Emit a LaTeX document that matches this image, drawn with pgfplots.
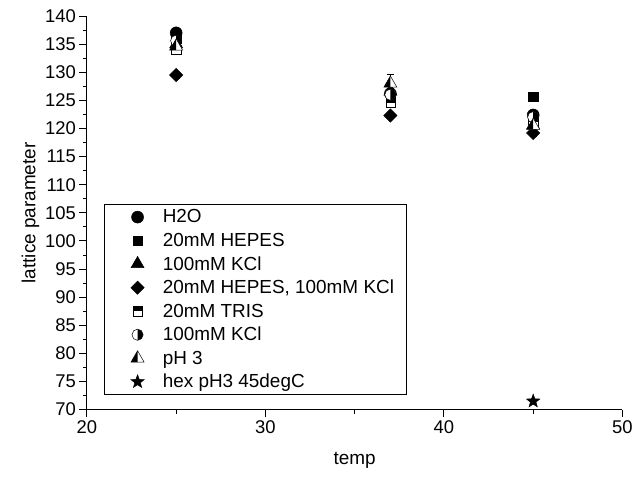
\documentclass[border=0pt]{standalone}
\usepackage{fontspec}
\setmainfont{Liberation Sans}
\usepackage{pgfplots}
\pgfplotsset{compat=1.18}
\usetikzlibrary{plotmarks}

% half-filled marks and a filled star
\pgfdeclareplotmark{htri}{%
  \begin{pgfscope}\pgfsetfillcolor{white}%
  \pgfpathmoveto{\pgfqpoint{0pt}{\pgfplotmarksize}}%
  \pgfpathlineto{\pgfqpoint{-.866\pgfplotmarksize}{-.5\pgfplotmarksize}}%
  \pgfpathlineto{\pgfqpoint{.866\pgfplotmarksize}{-.5\pgfplotmarksize}}%
  \pgfpathclose\pgfusepathqfill\end{pgfscope}%
  \pgfpathmoveto{\pgfqpoint{0pt}{\pgfplotmarksize}}%
  \pgfpathlineto{\pgfqpoint{-.866\pgfplotmarksize}{-.5\pgfplotmarksize}}%
  \pgfpathlineto{\pgfqpoint{0pt}{-.5\pgfplotmarksize}}%
  \pgfpathclose\pgfusepathqfill
  \pgfpathmoveto{\pgfqpoint{0pt}{\pgfplotmarksize}}%
  \pgfpathlineto{\pgfqpoint{-.866\pgfplotmarksize}{-.5\pgfplotmarksize}}%
  \pgfpathlineto{\pgfqpoint{.866\pgfplotmarksize}{-.5\pgfplotmarksize}}%
  \pgfpathclose\pgfusepathqstroke
}
\pgfdeclareplotmark{hsq}{%
  \begin{pgfscope}\pgfsetfillcolor{white}%
  \pgfpathrectanglecorners{\pgfqpoint{-\pgfplotmarksize}{-\pgfplotmarksize}}{\pgfqpoint{\pgfplotmarksize}{\pgfplotmarksize}}%
  \pgfusepathqfill\end{pgfscope}%
  \pgfpathrectanglecorners{\pgfqpoint{-\pgfplotmarksize}{0pt}}{\pgfqpoint{\pgfplotmarksize}{\pgfplotmarksize}}%
  \pgfusepathqfill
  \pgfpathrectanglecorners{\pgfqpoint{-\pgfplotmarksize}{-\pgfplotmarksize}}{\pgfqpoint{\pgfplotmarksize}{\pgfplotmarksize}}%
  \pgfusepathqstroke
}
\pgfdeclareplotmark{hcirc}{%
  \begin{pgfscope}\pgfsetfillcolor{white}%
  \pgfpathcircle{\pgfpointorigin}{\pgfplotmarksize}\pgfusepathqfill\end{pgfscope}%
  \pgfpathmoveto{\pgfqpoint{0pt}{-\pgfplotmarksize}}%
  \pgfpatharc{-90}{90}{\pgfplotmarksize}%
  \pgfpathclose\pgfusepathqfill
  \pgfpathcircle{\pgfpointorigin}{\pgfplotmarksize}\pgfusepathqstroke
}
\pgfdeclareplotmark{fstar}{%
  \pgfpathmoveto{\pgfqpointpolar{90}{\pgfplotmarksize}}%
  \pgfpathlineto{\pgfqpointpolar{126}{.42\pgfplotmarksize}}%
  \pgfpathlineto{\pgfqpointpolar{162}{\pgfplotmarksize}}%
  \pgfpathlineto{\pgfqpointpolar{198}{.42\pgfplotmarksize}}%
  \pgfpathlineto{\pgfqpointpolar{234}{\pgfplotmarksize}}%
  \pgfpathlineto{\pgfqpointpolar{270}{.42\pgfplotmarksize}}%
  \pgfpathlineto{\pgfqpointpolar{306}{\pgfplotmarksize}}%
  \pgfpathlineto{\pgfqpointpolar{342}{.42\pgfplotmarksize}}%
  \pgfpathlineto{\pgfqpointpolar{18}{\pgfplotmarksize}}%
  \pgfpathlineto{\pgfqpointpolar{54}{.42\pgfplotmarksize}}%
  \pgfpathclose\pgfusepathqfillstroke
}

\begin{document}
\begin{tikzpicture}
\begin{axis}[
    scale only axis,
    width=536bp, height=394bp,
    xmin=20, xmax=50, ymin=70, ymax=140,
    axis lines=left,
    axis line style={-, line width=1.1pt},
    xtick={20,30,40,50}, minor xtick={25,35,45},
    ytick={70,75,...,140}, minor ytick={72.5,77.5,...,137.5},
    tick align=outside,
    major tick length=7.5bp, minor tick length=4bp,
    tick style={line width=0.9pt, black},
    tick label style={font=\fontsize{18.5}{21}\selectfont},
    /pgf/number format/assume math mode=true,
    xlabel={temp}, ylabel={lattice parameter},
    label style={font=\fontsize{19}{22}\selectfont},
    xlabel style={yshift=-12bp},
    ylabel style={yshift=-1bp},
    clip=false,
    legend style={
        at={(0.032,0.038)}, anchor=south west,
        draw=black, line width=0.6pt,
        font=\fontsize{19}{22}\selectfont,
        row sep=4.6bp, inner xsep=10bp, inner ysep=3bp,
    },
    legend image code/.code={%
        \draw[#1] plot coordinates {(23bp,0bp)};
        \path (0bp,0bp) (46bp,0bp);},
    legend cell align=left,
    every axis plot/.append style={only marks, black, fill=black, line width=0.5pt},
    error bars/y dir=both, error bars/y explicit,
    error bars/error mark options={rotate=90, mark size=3.5bp},
]
\addplot[mark=*, mark size=6bp] coordinates {
    (25,137.0) +- (0,0.6) (37,126.2) +- (0,0.6) (45,122.4) +- (0,0.6)};
\addplot[mark=square*, mark size=4.6bp] coordinates {
    (25,136.0) +- (0,0.6) (37,125.0) +- (0,0.6) (45,125.7) +- (0,0.6)};
\addplot[mark=triangle*, mark size=7.5bp] coordinates {
    (25,135.0) +- (0,0.6) (37,126.6) +- (0,0.6) (45,120.6) +- (0,0.6)};
\addplot[mark=square*, mark size=4.7bp, mark options={rotate=45}] coordinates {
    (25,129.5) +- (0,0.5) (37,122.3) +- (0,0.5) (45,119.2) +- (0,0.5)};
\addplot[mark=hsq, mark size=4.6bp] coordinates {
    (25,134.0) +- (0,0.8) (37,124.6) +- (0,0.8) (45,121.2) +- (0,0.8)};
\addplot[mark=hcirc, mark size=5.6bp] coordinates {
    (25,135.6) +- (0,0.8) (37,126.0) +- (0,0.8) (45,122.0) +- (0,0.8)};
\addplot[mark=htri, mark size=7.5bp] coordinates {
    (25,134.6) +- (0,0.8) (37,128.0) +- (0,1.6) (45,120.5) +- (0,0.8)};
\addplot[mark=fstar, mark size=7bp, error bars/draw error bar/.code={}] coordinates {
    (45,71.5) +- (0,0)};
\legend{H2O, 20mM HEPES, 100mM KCl, {20mM HEPES, 100mM KCl}, 20mM TRIS, 100mM KCl, pH 3, hex pH3 45degC}
\path (axis description cs:-0.1623,-0.1853) (axis description cs:1.0243,1.0406);
\end{axis}
\end{tikzpicture}
\end{document}
